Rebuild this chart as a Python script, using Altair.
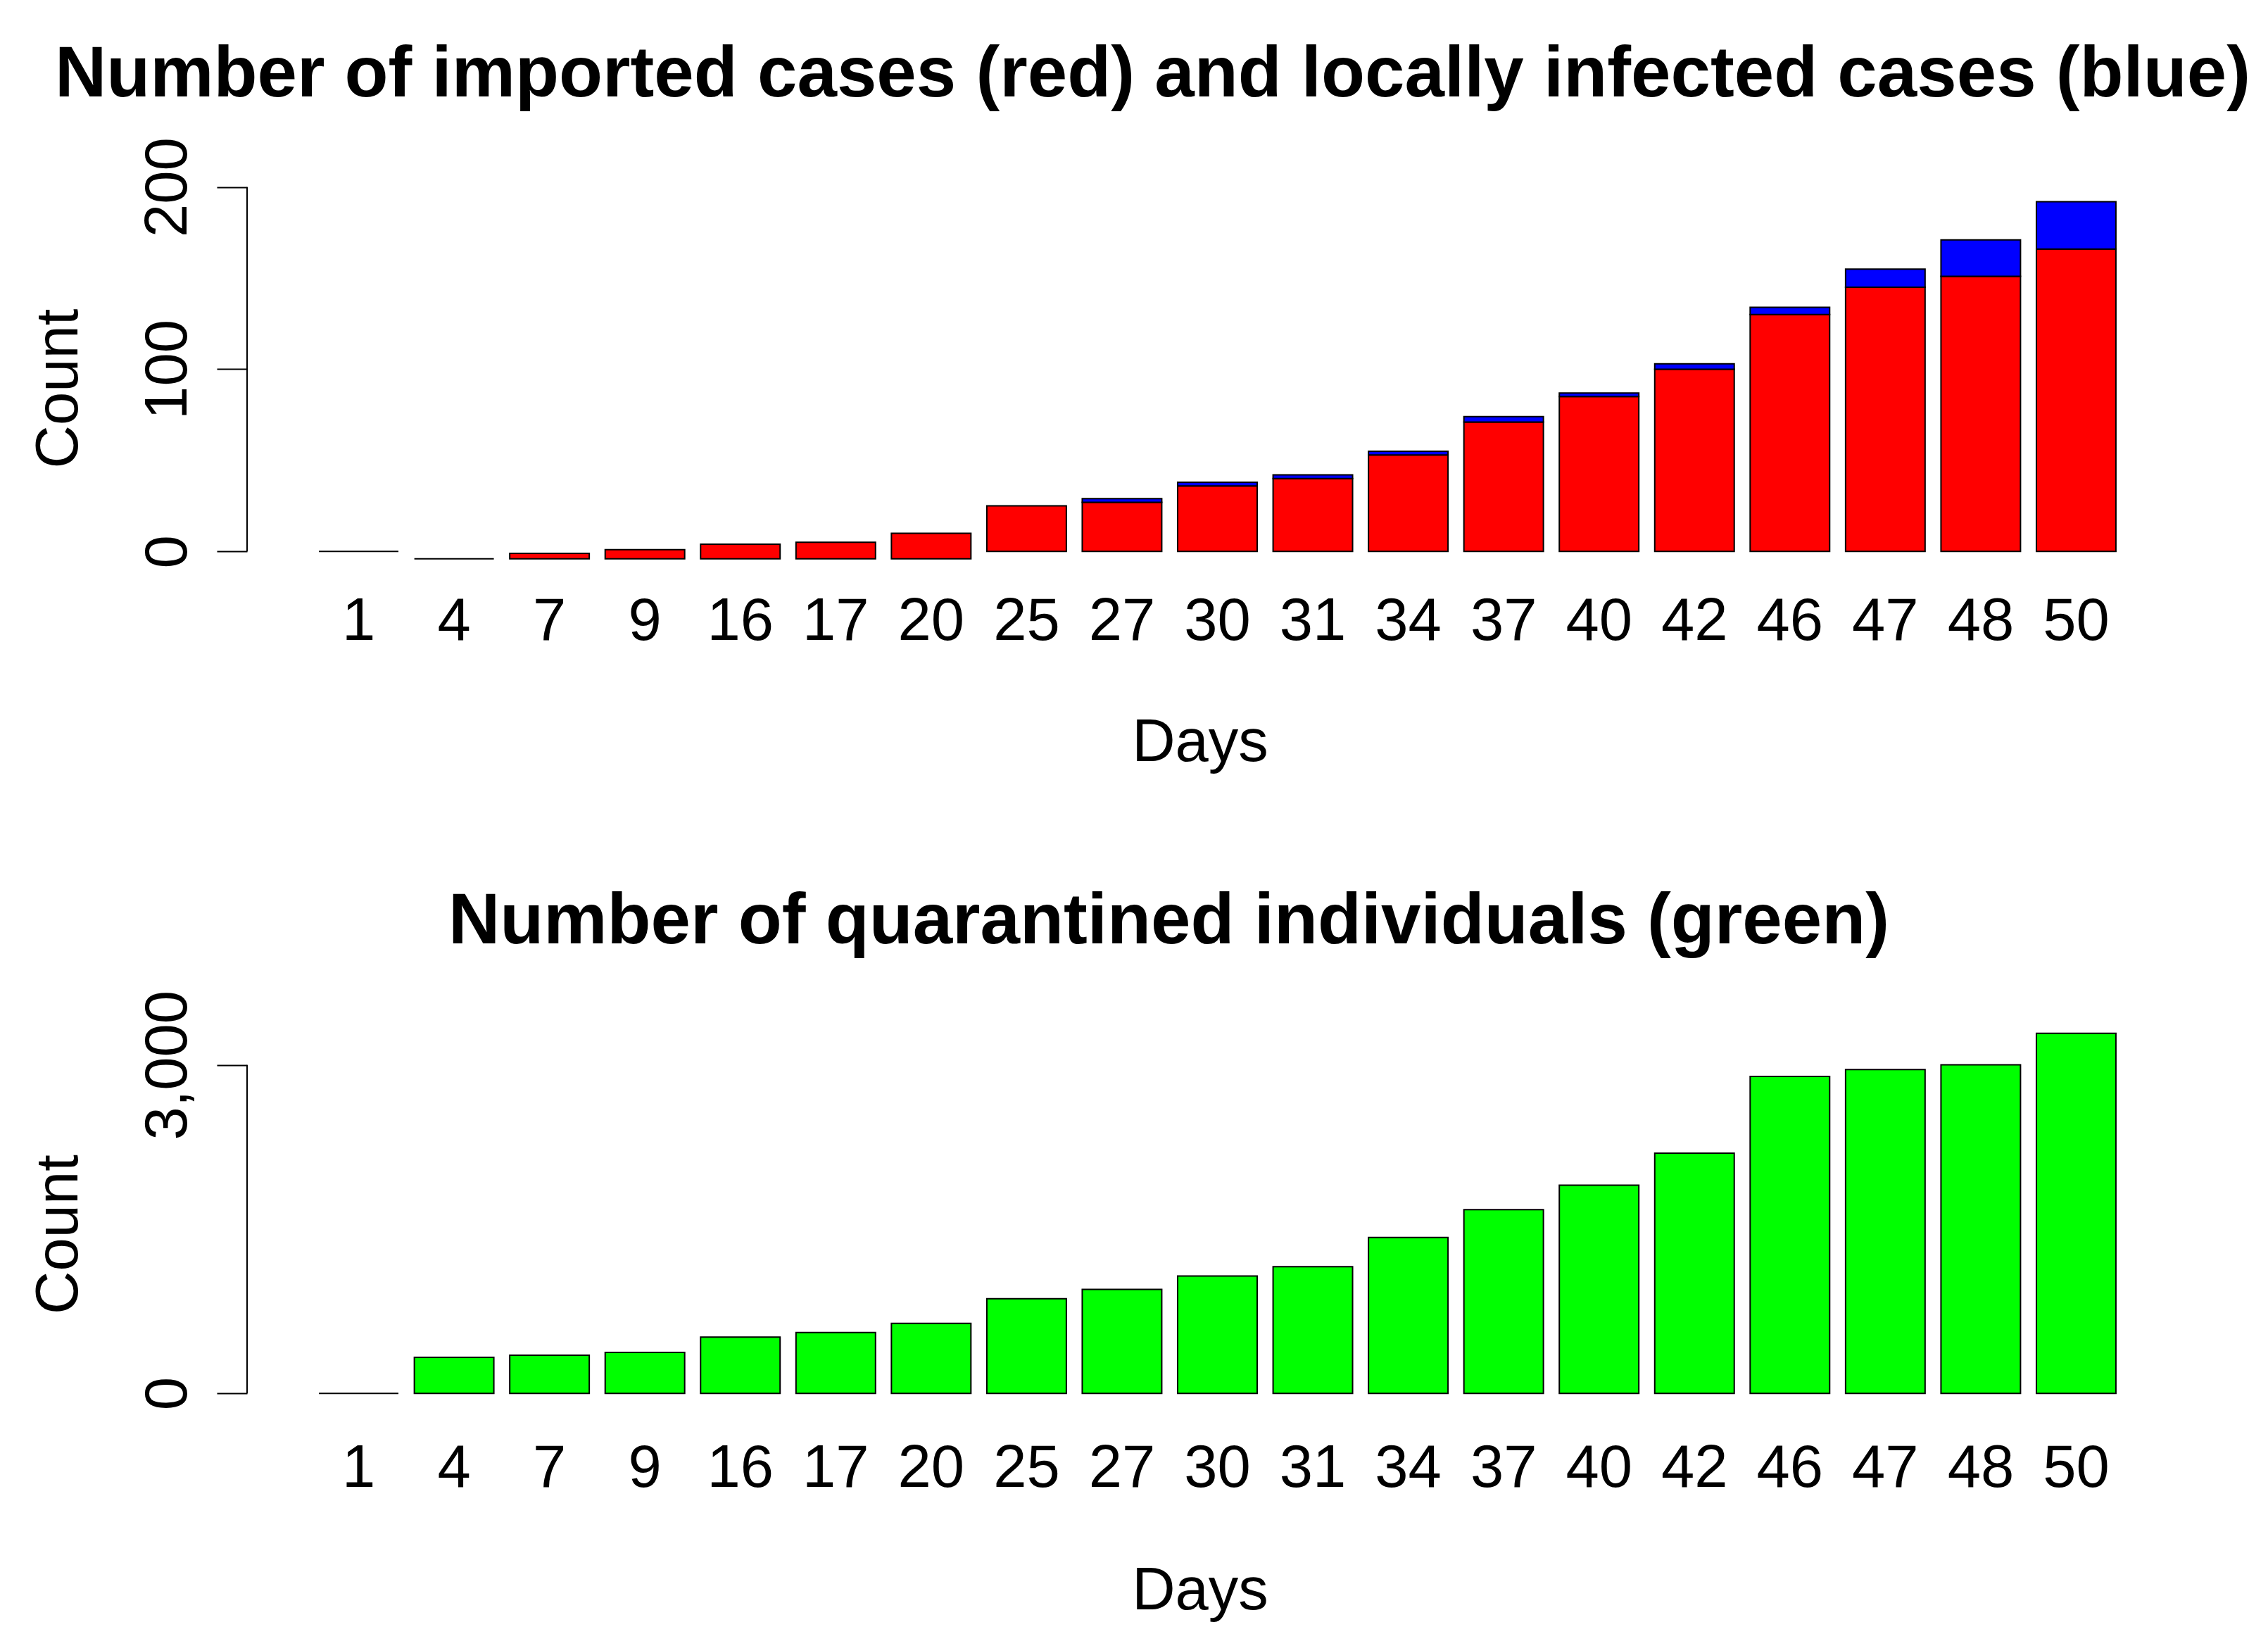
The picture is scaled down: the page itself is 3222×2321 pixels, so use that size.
import altair as alt
import pandas as pd

# ---------------------------
# dados
# ---------------------------
days = [1, 4, 7, 9, 16, 17, 20, 25, 27, 30, 31, 34, 37, 40, 42, 46, 47, 48, 50]
bar_base = [0, -4, -4, -4, -4, -4, -4, 0, 0, 0, 0, 0, 0, 0, 0, 0, 0, 0, 0]
imported = [0, 0, 3, 5, 8, 9, 14, 25, 27, 36, 40, 53, 71, 85, 100, 130, 145, 151, 166]
local = [0, 0, 0, 0, 0, 0, 0, 0, 2, 2, 2, 2, 3, 2, 3, 4, 10, 20, 26]
quarantined = [0, 330, 348, 374, 514, 556, 639, 865, 950, 1072, 1157, 1425,
               1679, 1902, 2195, 2896, 2958, 3002, 3290]

cases_ticks = [0, 100, 200]
quar_ticks = [0, 3000]

day_labels = [str(d) for d in days]

cases = pd.DataFrame({
    "Day": day_labels,
    "base": bar_base,
    "imported": imported,
    "local": local,
})
cases["red_top"] = cases["base"] + cases["imported"]
cases["blue_top"] = cases["red_top"] + cases["local"]

quar = pd.DataFrame({"Day": day_labels, "quarantined": quarantined})

FONT = "Liberation Sans"
W = 2757
H_TOP = 549
H_BOT = 558


def eixo_x(label_pad, title_y):
    return alt.X(
        "Day:N",
        sort=day_labels,
        scale=alt.Scale(paddingInner=1 / 6, paddingOuter=0.753),
        axis=alt.Axis(
            title="Days", labelAngle=0, domain=False, ticks=False,
            labelPadding=label_pad, labelBaseline="top",
            labelFontSize=85, titleFontSize=85, titleFontWeight="normal",
            titleX=W / 2 - 25, titleY=title_y, titleBaseline="alphabetic",
            labelColor="black", titleColor="black",
        ),
    )


def eixo_y(ticks, height, title_y):
    # eixo y no estilo do R: rótulos girados, sem linha de domínio
    return alt.Axis(
        values=ticks, labelExpr="format(datum.value, ',d')", labelLimit=0,
        title="Count", grid=False, domain=False,
        tickSize=43, tickWidth=2, tickColor="black",
        labelAngle=270, labelAlign="center", labelBaseline="alphabetic",
        labelPadding=44, labelFontSize=85, labelColor="black",
        titleFontSize=85, titleFontWeight="normal", titleColor="black",
        titleAngle=270, titleAlign="center", titleBaseline="alphabetic",
        titleX=-242, titleY=title_y,
    )


# ===========================
# GRÁFICO 1: importados (vermelho) e locais (azul)
# ===========================
sc_top = alt.Scale(domain=[-11.86, 200.26], nice=False, zero=False)
ax_top = eixo_y(cases_ticks, H_TOP, H_TOP / 2 + 12)
x_top = eixo_x(27, 266)

red = alt.Chart(cases).mark_bar(color="#FF0000", stroke="black", strokeWidth=2).encode(
    x=x_top,
    y=alt.Y("base:Q", scale=sc_top, axis=ax_top),
    y2="red_top:Q",
)

blue = alt.Chart(cases).transform_filter("datum.local > 0").mark_bar(
    color="#0000FF", stroke="black", strokeWidth=2
).encode(
    x=x_top,
    y=alt.Y("red_top:Q", scale=sc_top, axis=ax_top),
    y2="blue_top:Q",
)

# linha do eixo y só entre 0 e 200 (estilo R)
linha_top = alt.Chart(pd.DataFrame({"lo": [cases_ticks[0]], "hi": [cases_ticks[-1]]})).mark_rule(
    color="black", strokeWidth=2
).encode(
    x=alt.value(0),
    y=alt.Y("lo:Q", scale=sc_top, axis=ax_top),
    y2="hi:Q",
)

top = alt.layer(red, blue, linha_top).properties(
    width=W, height=H_TOP,
    title=alt.TitleParams(
        "Number of imported cases (red) and locally infected cases (blue)",
        fontSize=101.5, fontWeight="bold", font=FONT, color="black",
        anchor="middle", frame="group", baseline="alphabetic",
        offset=-44, dx=-92,
    ),
)

# ===========================
# GRÁFICO 2: quarentena (verde)
# ===========================
sc_bot = alt.Scale(domain=[-165.8, 3422.9], nice=False, zero=False)
ax_bot = eixo_y(quar_ticks, H_BOT, H_BOT / 2 + 27)
x_bot = eixo_x(39, 280)

green = alt.Chart(quar).mark_bar(color="#00FF00", stroke="black", strokeWidth=2).encode(
    x=x_bot,
    y=alt.Y("quarantined:Q", scale=sc_bot, axis=ax_bot),
    y2=alt.datum(0),
)

linha_bot = alt.Chart(pd.DataFrame({"lo": [quar_ticks[0]], "hi": [quar_ticks[-1]]})).mark_rule(
    color="black", strokeWidth=2
).encode(
    x=alt.value(0),
    y=alt.Y("lo:Q", scale=sc_bot, axis=ax_bot),
    y2="hi:Q",
)

bottom = alt.layer(green, linha_bot).properties(
    width=W, height=H_BOT,
    title=alt.TitleParams(
        "Number of quarantined individuals (green)",
        fontSize=101.5, fontWeight="bold", font=FONT, color="black",
        anchor="middle", frame="group", baseline="alphabetic",
        offset=-35, dx=-69,
    ),
)

chart = alt.vconcat(top, bottom, spacing=633, bounds="flush").properties(
    padding={"left": 33, "top": 48, "right": 5, "bottom": 5},
    background="white",
).configure(font=FONT).configure_view(stroke=None)

chart.save("out.html", embed_options={"renderer": "svg", "actions": False})
